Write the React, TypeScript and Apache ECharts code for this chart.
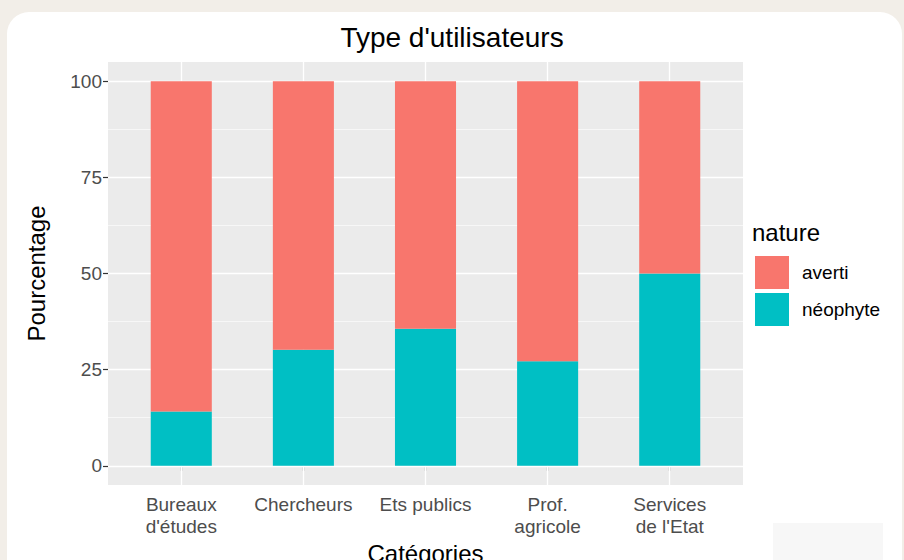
import React, { useEffect, useRef } from "react";
import * as echarts from "echarts";

const categories = ["Bureaux\nd'études", "Chercheurs", "Ets publics", "Prof.\nagricole", "Services\nde l'Etat"];
const xPositions = [1, 2, 3, 4, 5];
const neophyte = [14.1, 30.2, 35.6, 27.2, 50];
const averti = [85.9, 69.8, 64.4, 72.8, 50];
const yBreaks = [0, 25, 50, 75, 100];
const yMinorBreaks = [12.5, 37.5, 62.5, 87.5];

const FONT = "'Liberation Sans', Arial, sans-serif";

export default function App() {
  const ref = useRef<HTMLDivElement>(null);
  useEffect(() => {
    document.body.style.margin = "0";
    const chart = echarts.init(ref.current!, null, { renderer: "svg" });
    const gridLines = [
      ...yBreaks.map((v) => ({ yAxis: v, lineStyle: { width: 1.3 } })),
      ...yMinorBreaks.map((v) => ({ yAxis: v, lineStyle: { width: 0.6 } })),
      ...xPositions.map((v) => ({ xAxis: v, lineStyle: { width: 1.3 } })),
    ];
    chart.setOption({
      animation: false,
      backgroundColor: "#f2eee8",
      graphic: [
        {
          type: "rect",
          z: -10,
          shape: { x: 7, y: 12, width: 895, height: 620, r: 22 },
          style: { fill: "#ffffff" },
          silent: true,
        },
        {
          type: "rect",
          z: -9,
          shape: { x: 773, y: 523, width: 110, height: 40 },
          style: { fill: "#f7f7f7" },
          silent: true,
        },
      ],
      title: [
        {
          text: "Type d'utilisateurs",
          left: "center",
          top: 22,
          padding: 0,
          textStyle: { fontFamily: FONT, fontSize: 28, fontWeight: "normal", color: "#000", lineHeight: 30 },
        },
        {
          text: "nature",
          left: 752,
          top: 219,
          padding: 0,
          textStyle: { fontFamily: FONT, fontSize: 24, fontWeight: "normal", color: "#000", lineHeight: 26 },
        },
      ],
      legend: {
        data: ["averti", "néophyte"],
        orient: "vertical",
        left: 755,
        top: 256,
        padding: 0,
        itemWidth: 34,
        itemHeight: 33,
        itemGap: 4,
        icon: "rect",
        selectedMode: false,
        textStyle: { fontFamily: FONT, fontSize: 19, color: "#000", padding: [0, 0, 0, 8] },
      },
      grid: {
        left: 108,
        right: 161,
        top: 62,
        bottom: 75,
        containLabel: false,
        outerBoundsMode: "none",
        show: true,
        backgroundColor: "#ebebeb",
        borderWidth: 0,
      },
      xAxis: {
        type: "value",
        min: 0.4,
        max: 5.6,
        name: "Catégories",
        nameLocation: "middle",
        nameGap: 51,
        nameTextStyle: { fontFamily: FONT, fontSize: 24, color: "#000", lineHeight: 24 },
        axisLine: { show: false },
        splitLine: { show: false },
        axisTick: { show: true, length: 5, lineStyle: { color: "#333", width: 1.2 }, customValues: xPositions },
        axisLabel: {
          customValues: xPositions,
          formatter: (v: number) => categories[Math.round(v) - 1] ?? "",
          fontFamily: FONT,
          fontSize: 19,
          lineHeight: 22,
          color: "#4d4d4d",
          margin: 8,
        },
      },
      yAxis: {
        type: "value",
        min: -5,
        max: 105,
        name: "Pourcentage",
        nameLocation: "middle",
        nameGap: 60,
        nameRotate: 90,
        nameTextStyle: { fontFamily: FONT, fontSize: 24, color: "#000" },
        axisLine: { show: false },
        splitLine: { show: false },
        axisTick: { show: true, length: 5, lineStyle: { color: "#333", width: 1.2 }, customValues: yBreaks },
        axisLabel: {
          customValues: yBreaks,
          fontFamily: FONT,
          fontSize: 19,
          color: "#4d4d4d",
          margin: 6,
        },
      },
      series: [
        {
          name: "néophyte",
          type: "bar",
          stack: "total",
          barWidth: "50%",
          itemStyle: { color: "#00BFC4" },
          emphasis: { disabled: true },
          encode: { x: 1, y: 0 },
          data: neophyte.map((v, i) => [v, xPositions[i]]),
          markLine: {
            silent: true,
            z: 1,
            symbol: ["none", "none"],
            label: { show: false },
            lineStyle: { color: "#ffffff", type: "solid" },
            data: gridLines,
          },
        },
        {
          name: "averti",
          type: "bar",
          stack: "total",
          barWidth: "50%",
          itemStyle: { color: "#F8766D" },
          emphasis: { disabled: true },
          encode: { x: 1, y: 0 },
          data: averti.map((v, i) => [v, xPositions[i]]),
        },
      ],
    });
    return () => chart.dispose();
  }, []);
  return <div ref={ref} style={{ width: 904, height: 560 }} />;
}
